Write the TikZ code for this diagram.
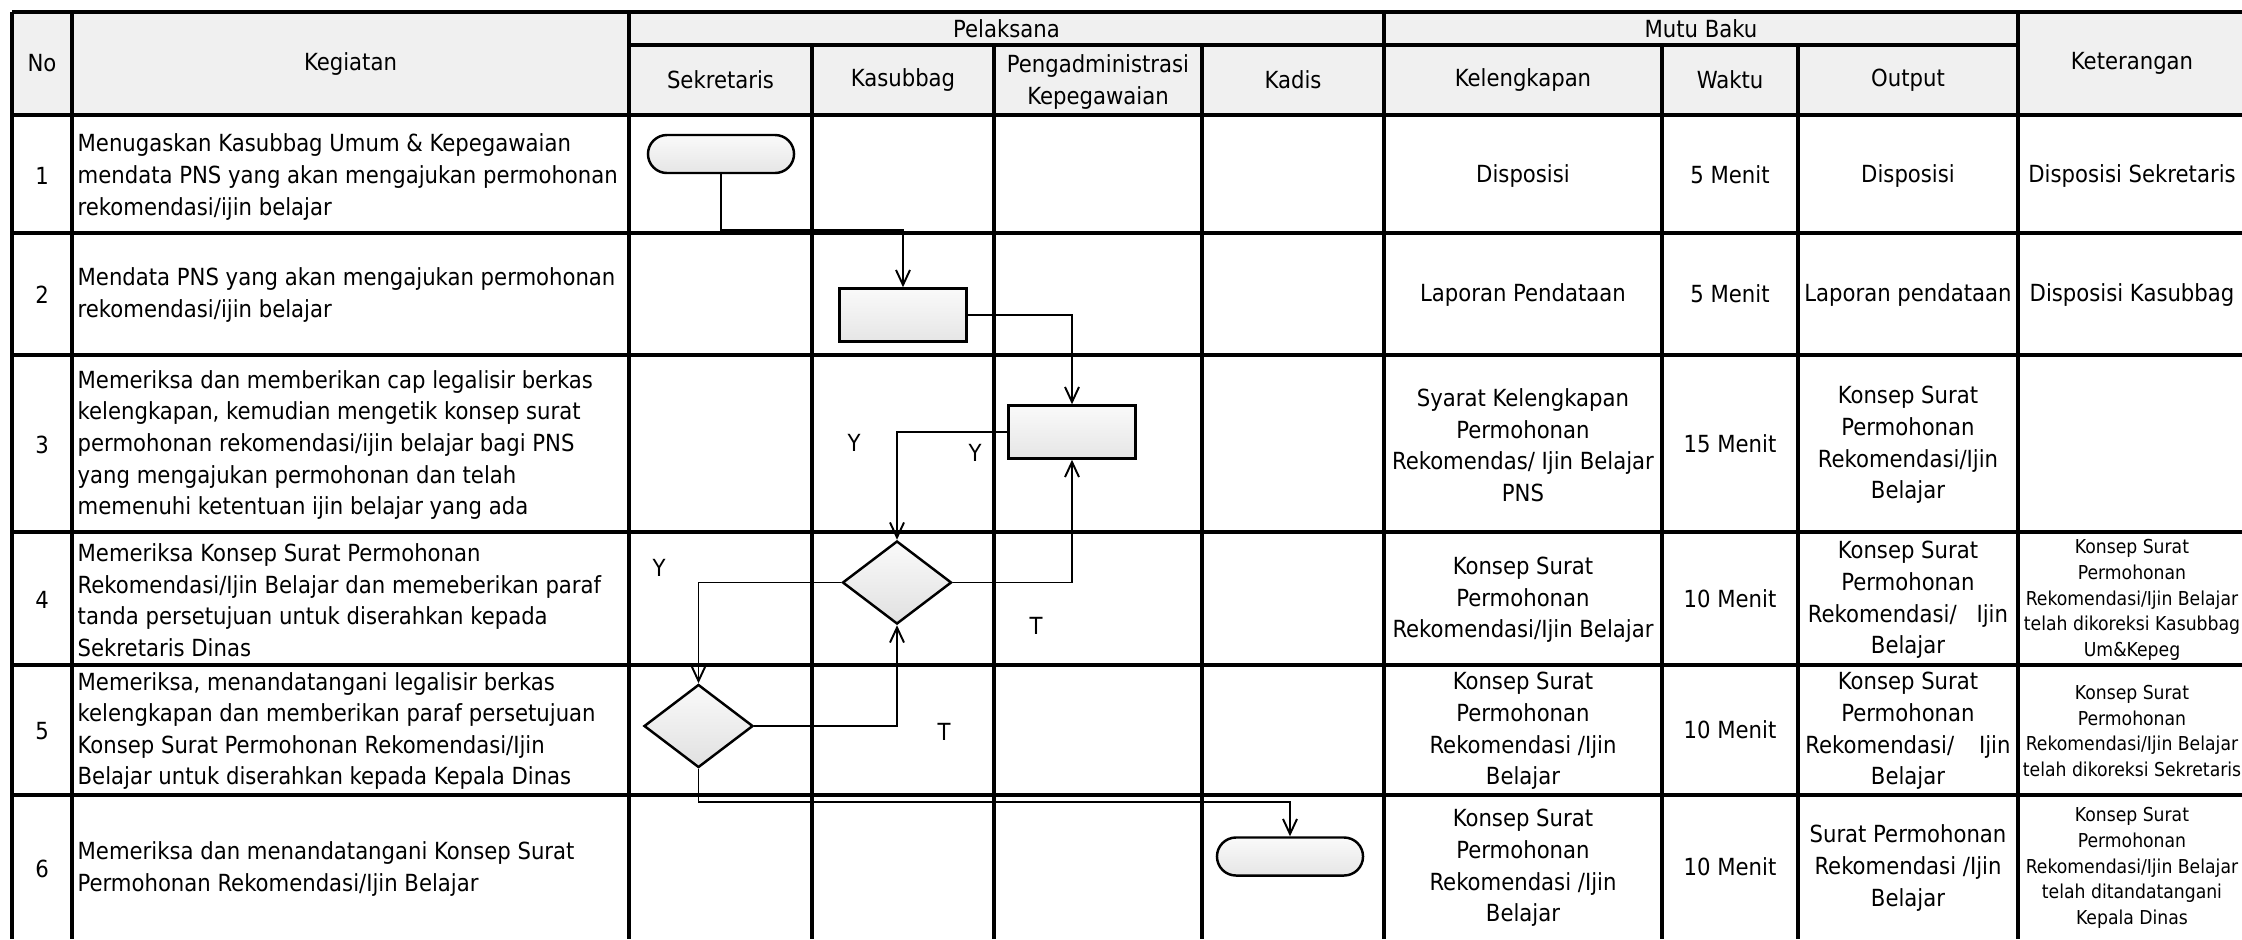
\documentclass[tikz,border=0pt]{standalone}
\usepackage{fontspec}
\setmainfont{DejaVu Sans Condensed}
\usetikzlibrary{arrows.meta,shapes.geometric,positioning,calc}

\begin{document}
\begin{tikzpicture}
[x=0.01cm, y=-0.01cm,
font=\fontsize{6.7}{8.97}\selectfont,
grid/.style={line width=0.9pt},
term/.style={draw,line width=0.7pt,rectangle,rounded corners=0.19cm,minimum width=1.46cm,minimum height=0.38cm,top color=gray!4,bottom color=gray!20},
proc/.style={draw,line width=0.7pt,rectangle,minimum width=1.27cm,minimum height=0.53cm,top color=gray!4,bottom color=gray!20},
dec/.style={draw,line width=0.7pt,diamond,inner sep=0pt,minimum width=1.09cm,minimum height=0.83cm,top color=gray!4,bottom color=gray!24},
flow/.style={line width=0.55pt,-{Straight Barb[length=1.5mm,width=1.4mm]}},
cell/.style={align=center,inner sep=0pt},
task/.style={align=left,anchor=west,inner sep=0pt},
note/.style={align=center,inner sep=0pt,font=\fontsize{5.45}{7.3}\selectfont},
yt/.style={inner sep=0pt}]
\useasboundingbox (0,0) rectangle (2242,939);
%% Table
% header shading
\fill[gray!12] (12,12) rectangle (2242,115);
% rows
\draw[grid] (12,12) -- (2242,12);
\draw[grid] (629,45) -- (2018,45);
\draw[grid] (12,115) -- (2242,115);
\draw[grid] (12,233) -- (2242,233);
\draw[grid] (12,355) -- (2242,355);
\draw[grid] (12,532) -- (2242,532);
\draw[grid] (12,665) -- (2242,665);
\draw[grid] (12,795) -- (2242,795);
% columns
\draw[grid] (12,12) -- (12,939);
\draw[grid] (72,12) -- (72,939);
\draw[grid] (629,12) -- (629,939);
\draw[grid] (812,45) -- (812,939);
\draw[grid] (994,45) -- (994,939);
\draw[grid] (1202,45) -- (1202,939);
\draw[grid] (1384,12) -- (1384,939);
\draw[grid] (1662,45) -- (1662,939);
\draw[grid] (1798,45) -- (1798,939);
\draw[grid] (2018,12) -- (2018,939);
%
% header
\node[cell] (hno) at (42,63.5) {No};
\node[cell] (hkeg) at (350.5,63.5) {Kegiatan};
\node[cell] (hpel) at (1006.5,28.5) {Pelaksana};
\node[cell] (hmutu) at (1701,28.5) {Mutu Baku};
\node[cell] (hket) at (2132,63.5) {Keterangan};
\node[cell] (hsek) at (720.5,80) {Sekretaris};
\node[cell] (hkas) at (903,80) {Kasubbag};
\node[cell] (hpeng) at (1098,82) {Pengadministrasi\\Kepegawaian};
\node[cell] (hkad) at (1293,80) {Kadis};
\node[cell] (hkel) at (1523,80) {Kelengkapan};
\node[cell] (hwak) at (1730,80) {Waktu};
\node[cell] (hout) at (1908,80) {Output};
%
% numbers
\node[cell] (n1) at (42,176) {1};
\node[cell] (n2) at (42,295) {2};
\node[cell] (n3) at (42,445) {3};
\node[cell] (n4) at (42,600) {4};
\node[cell] (n5) at (42,731) {5};
\node[cell] (n6) at (42,869) {6};
%
% kegiatan
\node[task] (g1) at (77,177) {Menugaskan Kasubbag Umum \& Kepegawaian\\mendata PNS yang akan mengajukan permohonan\\rekomendasi/ijin belajar};
\node[task] (g2) at (77,295) {Mendata PNS yang akan mengajukan permohonan\\rekomendasi/ijin belajar};
\node[task] (g3) at (77,445) {Memeriksa dan memberikan cap legalisir berkas\\kelengkapan, kemudian mengetik konsep surat\\permohonan rekomendasi/ijin belajar bagi PNS\\yang mengajukan permohonan dan telah\\memenuhi ketentuan ijin belajar yang ada};
\node[task] (g4) at (77,600) {Memeriksa Konsep Surat Permohonan\\Rekomendasi/Ijin Belajar dan memeberikan paraf\\tanda persetujuan untuk diserahkan kepada\\Sekretaris Dinas};
\node[task] (g5) at (77,731) {Memeriksa, menandatangani legalisir berkas\\kelengkapan dan memberikan paraf persetujuan\\Konsep Surat Permohonan Rekomendasi/Ijin\\Belajar untuk diserahkan kepada Kepala Dinas};
\node[task] (g6) at (77,869) {Memeriksa dan menandatangani Konsep Surat\\Permohonan Rekomendasi/Ijin Belajar};
%
% mutu baku
\node[cell] (k1) at (1523,176) {Disposisi};
\node[cell] (w1) at (1730,175) {5 Menit};
\node[cell] (o1) at (1908,176) {Disposisi};
\node[cell] (e1) at (2132,176) {Disposisi Sekretaris};
\node[cell] (k2) at (1523,295) {Laporan Pendataan};
\node[cell] (w2) at (1730,294) {5 Menit};
\node[cell] (o2) at (1908,295) {Laporan pendataan};
\node[cell] (e2) at (2132,295) {Disposisi Kasubbag};
\node[cell] (k3) at (1523,445) {Syarat Kelengkapan\\Permohonan\\Rekomendas/ Ijin Belajar\\PNS};
\node[cell] (w3) at (1730,444) {15 Menit};
\node[cell] (o3) at (1908,445) {Konsep Surat\\Permohonan\\Rekomendasi/Ijin\\Belajar};
\node[cell] (k4) at (1523,600) {Konsep Surat\\Permohonan\\Rekomendasi/Ijin Belajar};
\node[cell] (w4) at (1730,599) {10 Menit};
\node[cell] (o4) at (1908,600) {Konsep Surat\\Permohonan\\\makebox[2cm][s]{Rekomendasi/ Ijin}\\Belajar};
\node[note] (e4) at (2132,600) {Konsep Surat\\Permohonan\\Rekomendasi/Ijin Belajar\\telah dikoreksi Kasubbag\\Um\&Kepeg};
\node[cell] (k5) at (1523,731) {Konsep Surat\\Permohonan\\Rekomendasi /Ijin\\Belajar};
\node[cell] (w5) at (1730,730) {10 Menit};
\node[cell] (o5) at (1908,731) {Konsep Surat\\Permohonan\\\makebox[2.05cm][s]{Rekomendasi/ Ijin}\\Belajar};
\node[note] (e5) at (2132,731) {Konsep Surat\\Permohonan\\Rekomendasi/Ijin Belajar\\telah dikoreksi Sekretaris};
\node[cell] (k6) at (1523,868) {Konsep Surat\\Permohonan\\Rekomendasi /Ijin\\Belajar};
\node[cell] (w6) at (1730,867) {10 Menit};
\node[cell] (o6) at (1908,868) {Surat Permohonan\\Rekomendasi /Ijin\\Belajar};
\node[note] (e6) at (2132,868) {Konsep Surat\\Permohonan\\Rekomendasi/Ijin Belajar\\telah ditandatangani\\Kepala Dinas};
%%%%%%%%%%%%%%%%%%%%%%%%%%%%
%% Flow
\node[term] (start) at (721,154) {};
\node[proc] (data) at (903,315) {};
\node[proc] (ketik) at (1072,432) {};
\node[dec] (cekkas) at (897,582.5) {};
\node[dec] (ceksek) at (698.5,726) {};
\node[term] (stop) at (1290,856.5) {};
\coordinate (c1) at (903,230);
\coordinate (c2) at (1290,802);
% connectors
\draw[flow] (start.south) |- (c1) -- (data.north);
\draw[flow] (data.east) -| (ketik.north);
\draw[flow] (ketik.west) -| (cekkas.north);
\draw[flow] (cekkas.east) -| (ketik.south);
\draw[flow] (cekkas.west) -| (ceksek.north);
\draw[flow] (ceksek.east) -| (cekkas.south);
\draw[flow] (ceksek.south) |- (c2) -- (stop.north);
% labels
\node[yt] (y1) at (854,443) {Y};
\node[yt] (y2) at (975,453) {Y};
\node[yt] (y3) at (659,568) {Y};
\node[yt] (t1) at (1036,626) {T};
\node[yt] (t2) at (944,732) {T};
\end{tikzpicture}
\end{document}
